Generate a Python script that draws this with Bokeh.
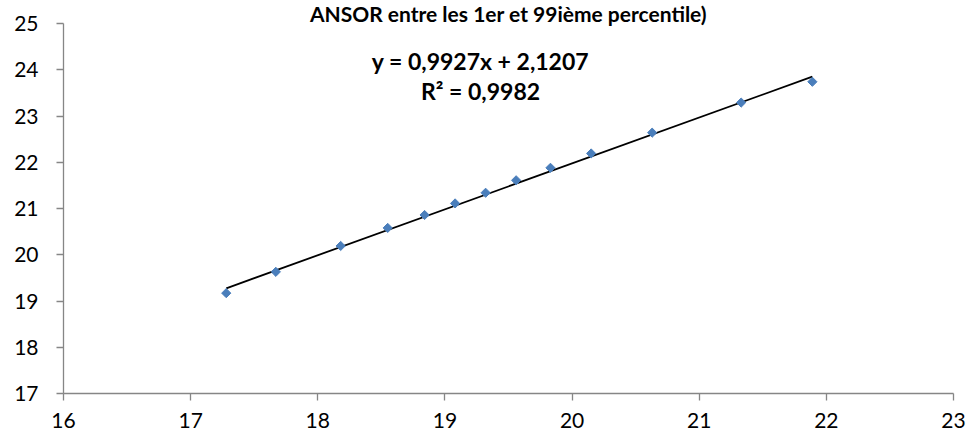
import math
from bokeh.plotting import figure
from bokeh.models import Label, FixedTicker, Range1d
from bokeh.embed import file_html
from bokeh.resources import INLINE

# data
x_vals = [17.28, 17.67, 18.18, 18.55, 18.84, 19.08, 19.32, 19.56, 19.83, 20.15, 20.63, 21.33, 21.89]
y_vals = [19.17, 19.63, 20.19, 20.58, 20.86, 21.11, 21.34, 21.61, 21.88, 22.19, 22.64, 23.29, 23.74]
slope = 0.9927
intercept = 2.1207
eq_text = "y = 0,9927x + 2,1207"
r2_text = "R² = 0,9982"
title_text = "ANSOR entre les 1er et 99ième percentile)"
x_ticks = [16, 17, 18, 19, 20, 21, 22, 23]
y_ticks = [17, 18, 19, 20, 21, 22, 23, 24, 25]

FONT = "Lato"
AXIS_COLOR = "#868686"

p = figure(frame_width=890, frame_height=370, output_backend="svg", toolbar_location=None,
           x_range=Range1d(16, 23), y_range=Range1d(17, 25),
           min_border_left=63, min_border_right=15, min_border_top=0, min_border_bottom=44)
p.title.text = title_text
p.title.align = "center"
p.title.text_font = FONT
p.title.text_font_style = "bold"
p.title.text_font_size = "21px"
p.title.text_color = "black"
p.title.standoff = -4
p.title.offset = -4
p.outline_line_color = None
p.xgrid.visible = False
p.ygrid.visible = False
p.background_fill_color = "white"
p.border_fill_color = "white"

for ax in (p.xaxis[0], p.yaxis[0]):
    ax.axis_line_color = AXIS_COLOR
    ax.axis_line_width = 1.3
    ax.major_tick_line_color = AXIS_COLOR
    ax.major_tick_line_width = 1.3
    ax.major_tick_out = 7
    ax.major_tick_in = 0
    ax.minor_tick_line_color = None
    ax.major_label_text_font = FONT
    ax.major_label_text_font_size = "21px"
    ax.major_label_text_color = "black"

p.xaxis[0].ticker = FixedTicker(ticks=x_ticks)
p.yaxis[0].ticker = FixedTicker(ticks=y_ticks)
p.xaxis[0].major_label_standoff = 12
p.yaxis[0].major_label_standoff = 18

# trend line over the data extent
x0, x1 = min(x_vals), max(x_vals)
p.line([x0, x1], [slope * x0 + intercept, slope * x1 + intercept], line_color="black", line_width=1.8)

p.scatter(x_vals, y_vals, marker="square", angle=math.pi / 4, size=6.5,
          fill_color="#4A7EBB", line_color="#4A7EBB")

p.add_layout(Label(x=19.28, y=24.20, text=eq_text, text_font=FONT, text_font_style="bold",
                   text_font_size="23px", text_align="center", text_baseline="alphabetic",
                   text_color="black"))
p.add_layout(Label(x=19.28, y=23.55, text=r2_text, text_font=FONT, text_font_style="bold",
                   text_font_size="23px", text_align="center", text_baseline="alphabetic",
                   text_color="black"))

open("out.html", "w").write(file_html(p, INLINE))
